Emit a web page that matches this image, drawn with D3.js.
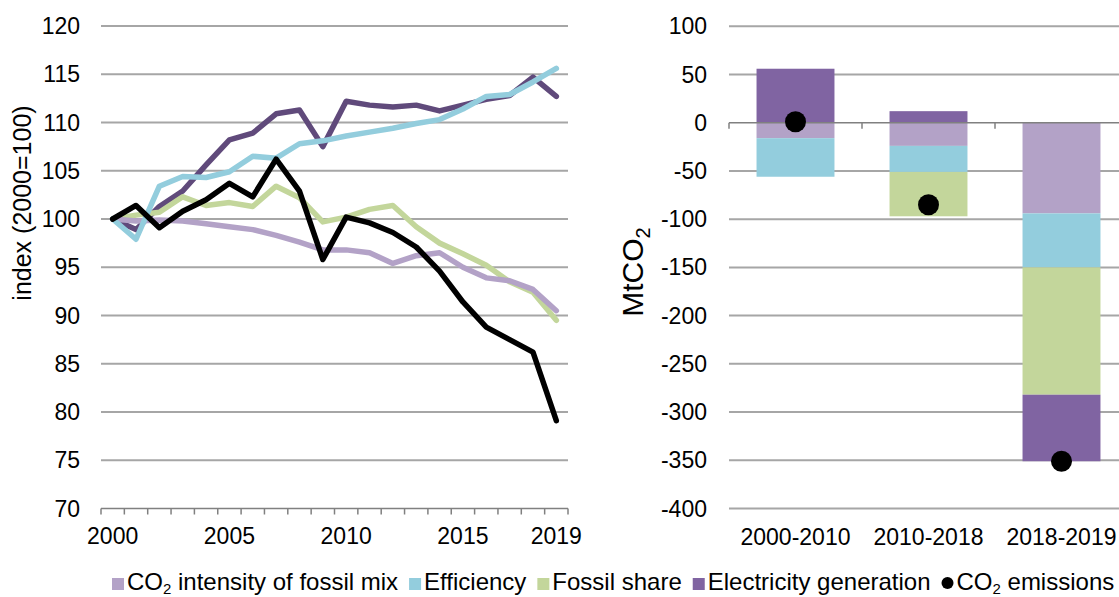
<!DOCTYPE html>
<html><head><meta charset="utf-8">
<script src="https://cdn.jsdelivr.net/npm/d3@7"></script>
<style>
html,body{margin:0;padding:0;background:#fff;}
svg{display:block;font-family:"Liberation Sans",Arial,sans-serif;}
</style></head>
<body>
<svg id="c" width="1119" height="597"></svg>
<script>
// ---------- data ----------
const years = [2000,2001,2002,2003,2004,2005,2006,2007,2008,2009,2010,2011,2012,2013,2014,2015,2016,2017,2018,2019];
const yearTickLabels = [2000,2005,2010,2015,2019];
const indexTicks = [70,75,80,85,90,95,100,105,110,115,120];
const intensityIdx   = [100,99.8,99.9,99.8,99.5,99.2,98.9,98.3,97.6,96.8,96.8,96.5,95.4,96.2,96.5,95.0,93.9,93.6,92.7,90.5];
const efficiencyIdx  = [100,97.9,103.4,104.4,104.3,104.9,106.5,106.3,107.8,108.1,108.6,109.0,109.4,109.9,110.3,111.4,112.7,112.9,114.2,115.6];
const fossilIdx      = [100,100.4,100.7,102.3,101.4,101.7,101.3,103.4,102.2,99.7,100.2,101.0,101.4,99.2,97.5,96.4,95.2,93.5,92.4,89.5];
const electricityIdx = [100,98.9,101.3,102.9,105.6,108.2,108.9,110.9,111.3,107.5,112.2,111.8,111.6,111.8,111.2,111.8,112.4,112.8,114.7,112.7];
const emissionsIdx   = [100,101.4,99.1,100.8,102.0,103.7,102.3,106.2,102.9,95.8,100.2,99.6,98.6,97.1,94.6,91.4,88.8,87.5,86.2,79.1];

const periods = ["2000-2010","2010-2018","2018-2019"];
const mtTicks = [100,50,0,-50,-100,-150,-200,-250,-300,-350,-400];
const intensityMt   = [-16,-24,-94];
const efficiencyMt  = [-40,-27,-56];
const fossilMt      = [0,-46,-132];
const electricityMt = [56,12,-69];
const emissionsMt   = [1,-85,-351];

// ---------- styles ----------
const C = {
  intensity:"#B3A2C7", efficiency:"#93CDDD", fossil:"#C3D69B",
  elecBar:"#8064A2", elecLine:"#604A7B", emis:"#000000",
  grid:"#A6A6A6", axis:"#808080"
};
const FS = 23;
const svg = d3.select("#c");

// ---------- left chart ----------
const L = {x0:101, x1:568, y0:26, y1:508.5};
const xL = d3.scaleBand().domain(years).range([L.x0, L.x1]).padding(0);
const yL = d3.scaleLinear().domain([70,120]).range([L.y1, L.y0]);
const gL = svg.append("g");

gL.selectAll("line.grid").data(indexTicks.filter(t=>t!==70)).join("line")
  .attr("x1",L.x0).attr("x2",L.x1).attr("y1",d=>yL(d)).attr("y2",d=>yL(d))
  .attr("stroke",C.grid).attr("stroke-width",2);

gL.selectAll("text.yt").data(indexTicks).join("text")
  .attr("x",80).attr("y",d=>yL(d)).attr("dy","0.35em").attr("text-anchor","end")
  .attr("font-size",FS).text(d=>d);

// x axis
gL.append("line").attr("x1",L.x0).attr("x2",L.x1).attr("y1",L.y1).attr("y2",L.y1)
  .attr("stroke",C.axis).attr("stroke-width",1.5);
const bounds = years.map(y=>xL(y)).concat([L.x1]);
gL.selectAll("line.xt").data(bounds).join("line")
  .attr("x1",d=>d).attr("x2",d=>d).attr("y1",L.y1).attr("y2",L.y1+6)
  .attr("stroke",C.axis).attr("stroke-width",1.5);
gL.selectAll("text.xl").data(yearTickLabels).join("text")
  .attr("x",d=>xL(d)+xL.bandwidth()/2).attr("y",544).attr("text-anchor","middle")
  .attr("font-size",FS).text(d=>d);

gL.append("text").attr("transform","translate(31,203) rotate(-90)")
  .attr("text-anchor","middle").attr("font-size",25).text("index (2000=100)");

const line = d3.line().x((d,i)=>xL(years[i])+xL.bandwidth()/2).y(d=>yL(d)).curve(d3.curveLinear);
const series = [
  {v:electricityIdx, c:C.elecLine},
  {v:fossilIdx, c:C.fossil},
  {v:intensityIdx, c:C.intensity},
  {v:efficiencyIdx, c:C.efficiency},
  {v:emissionsIdx, c:C.emis}
];
gL.selectAll("path.s").data(series).join("path")
  .attr("d",d=>line(d.v)).attr("fill","none").attr("stroke",d=>d.c)
  .attr("stroke-width",5.5).attr("stroke-linejoin","round").attr("stroke-linecap","round");

// ---------- right chart ----------
const R = {x0:729, x1:1128, y0:26.3, y1:508.5};
const xR = d3.scaleBand().domain(periods).range([R.x0, R.x1]).padding(0);
const yR = d3.scaleLinear().domain([-400,100]).range([R.y1, R.y0]);
const gR = svg.append("g");

gR.selectAll("line.grid").data(mtTicks.filter(t=>t!==0)).join("line")
  .attr("x1",R.x0).attr("x2",1119).attr("y1",d=>yR(d)).attr("y2",d=>yR(d))
  .attr("stroke",C.grid).attr("stroke-width",2);
gR.selectAll("text.yt").data(mtTicks).join("text")
  .attr("x",707).attr("y",d=>yR(d)).attr("dy","0.35em").attr("text-anchor","end")
  .attr("font-size",FS).text(d=>d);

const rows = periods.map((p,i)=>({period:p, intensity:intensityMt[i], efficiency:efficiencyMt[i], fossil:fossilMt[i], electricity:electricityMt[i]}));
const keys = ["intensity","efficiency","fossil","electricity"];
const barColor = {intensity:C.intensity, efficiency:C.efficiency, fossil:C.fossil, electricity:C.elecBar};
const stacked = d3.stack().keys(keys).offset(d3.stackOffsetDiverging)(rows);
const bw = xR.bandwidth()*0.586;
gR.selectAll("g.layer").data(stacked).join("g").attr("fill",d=>barColor[d.key])
  .selectAll("rect").data(d=>d).join("rect")
  .attr("x",d=>xR(d.data.period)+(xR.bandwidth()-bw)/2).attr("width",bw)
  .attr("y",d=>yR(Math.max(d[0],d[1]))).attr("height",d=>Math.abs(yR(d[0])-yR(d[1])));

// zero axis
gR.append("line").attr("x1",R.x0).attr("x2",1119).attr("y1",yR(0)).attr("y2",yR(0))
  .attr("stroke",C.axis).attr("stroke-width",1.5);
gR.selectAll("line.xt").data(periods.map(p=>xR(p))).join("line")
  .attr("x1",d=>d).attr("x2",d=>d).attr("y1",yR(0)).attr("y2",yR(0)+6)
  .attr("stroke",C.axis).attr("stroke-width",1.5);

gR.selectAll("circle.em").data(emissionsMt).join("circle")
  .attr("cx",(d,i)=>xR(periods[i])+xR.bandwidth()/2).attr("cy",d=>yR(d)).attr("r",10.5)
  .attr("fill",C.emis);

gR.selectAll("text.xl").data(periods).join("text")
  .attr("x",d=>xR(d)+xR.bandwidth()/2).attr("y",545).attr("text-anchor","middle")
  .attr("font-size",FS).text(d=>d);

const tt = gR.append("text").attr("transform","translate(643,272) rotate(-90)")
  .attr("text-anchor","middle").attr("font-size",30);
tt.append("tspan").text("MtCO");
tt.append("tspan").attr("font-size",20).attr("dy",7).text("2");

// ---------- legend ----------
const legendItems = [
  {pre:"CO", sub:"2", post:" intensity of fossil mix", c:C.intensity, shape:"rect"},
  {pre:"Efficiency", c:C.efficiency, shape:"rect"},
  {pre:"Fossil share", c:C.fossil, shape:"rect"},
  {pre:"Electricity generation", c:C.elecBar, shape:"rect"},
  {pre:"CO", sub:"2", post:" emissions", c:C.emis, shape:"circle"}
];
const LFS = 24;
const gLeg = svg.append("g");
let lx = 112; const ly = 590;
legendItems.forEach(it=>{
  if(it.shape==="rect"){
    gLeg.append("rect").attr("x",lx).attr("y",ly-12).attr("width",12).attr("height",12).attr("fill",it.c);
  } else {
    gLeg.append("circle").attr("cx",lx+6).attr("cy",ly-7).attr("r",6).attr("fill",it.c);
  }
  const t = gLeg.append("text").attr("x",lx+15).attr("y",ly).attr("font-size",LFS);
  t.append("tspan").text(it.pre);
  if(it.sub){
    t.append("tspan").attr("font-size",15).attr("dy",4).text(it.sub);
    t.append("tspan").attr("dy",-4).text(it.post);
  }
  lx += 15 + t.node().getComputedTextLength() + 11;
});
</script>
</body></html>
